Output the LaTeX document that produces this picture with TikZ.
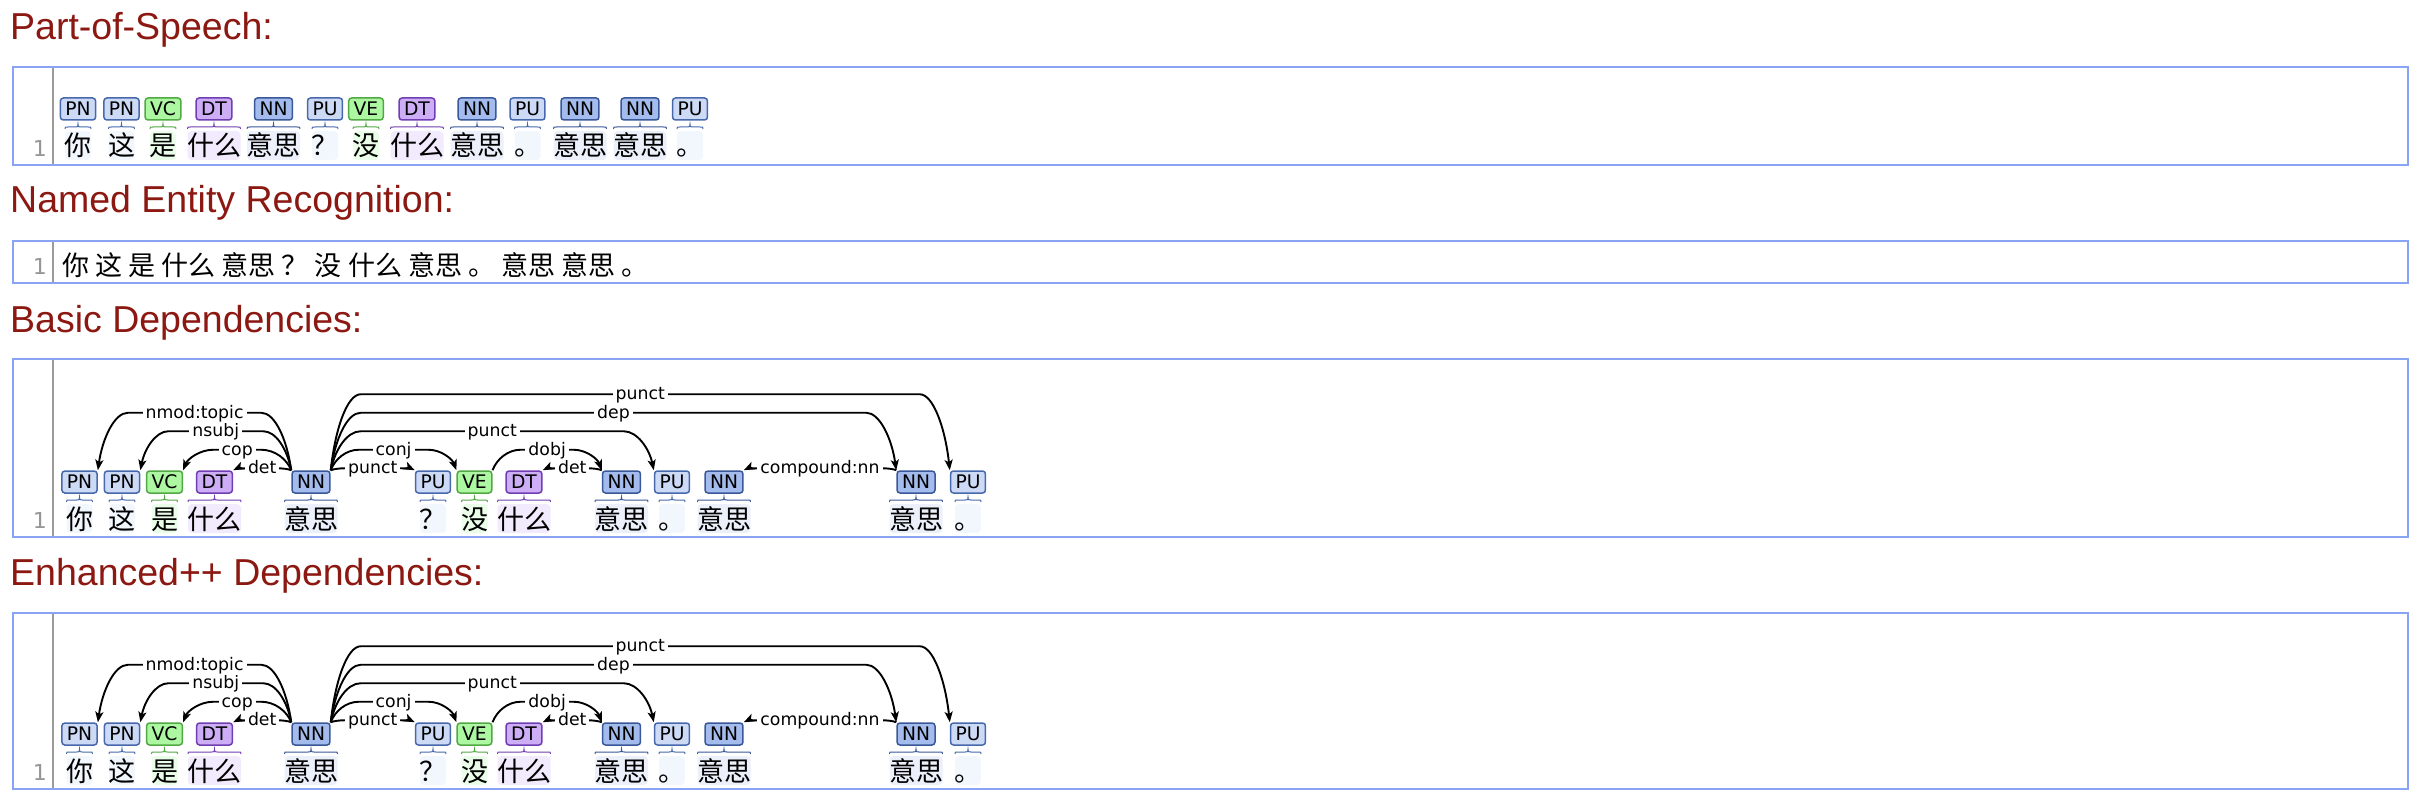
\documentclass[tikz,border=0pt]{standalone}
\usepackage{fontspec}
\newfontfamily\dvs{DejaVu Sans}
\newfontfamily\lib{Liberation Sans}
\newfontfamily\cjk{Noto Sans CJK SC}
\usetikzlibrary{calc,arrows.meta}
\definecolor{titlered}{RGB}{140,24,18}
\definecolor{frameblue}{RGB}{138,164,245}
\definecolor{gutgray}{RGB}{155,155,155}
\definecolor{numgray}{RGB}{150,150,150}
\definecolor{pnfill}{RGB}{204,218,246}
\definecolor{pnline}{RGB}{72,104,172}
\definecolor{nnfill}{RGB}{164,188,237}
\definecolor{nnline}{RGB}{58,88,152}
\definecolor{vvfill}{RGB}{173,246,162}
\definecolor{vvline}{RGB}{82,168,68}
\definecolor{dtfill}{RGB}{204,173,246}
\definecolor{dtline}{RGB}{112,62,178}
\colorlet{pnbg}{pnfill!25!white}
\colorlet{nnbg}{nnfill!22!white}
\colorlet{vvbg}{vvfill!25!white}
\colorlet{dtbg}{dtfill!25!white}
\tikzset{
  title/.style={anchor=base west, inner sep=0pt, text=titlered, font=\lib\fontsize{37.5pt}{40pt}\selectfont},
  frame/.style={draw=frameblue, line width=2pt},
  gutter/.style={draw=gutgray, line width=2pt},
  lnum/.style={anchor=base east, inner sep=0pt, text=numgray, font=\dvs\fontsize{22pt}{24pt}\selectfont},
  tag/.style={rounded corners=3pt, line width=1.5pt, inner xsep=5pt, inner ysep=0pt, minimum height=22pt, text height=13.6pt, text depth=0pt, font=\dvs\fontsize{18.7pt}{20pt}\selectfont},
  word/.style={anchor=base, inner sep=0pt, font=\cjk\fontsize{27pt}{30pt}\selectfont},
  arc/.style={draw=black, line width=1.9pt, -{Stealth[length=10.5pt,width=8pt,inset=2.5pt]}},
  lab/.style={fill=white, inner xsep=3pt, inner ysep=1pt, text height=14.7pt, text depth=3.3pt, font=\dvs\fontsize{17.3pt}{19pt}\selectfont},
}
% word background and brace: cx, T, half width, bg colour, line colour
\newcommand{\wordbg}[5]{%
  \fill[fill=#4, rounded corners=4pt] ({#1-#3},{#2+33}) rectangle ({#1+#3},{#2+62});
  \draw[color=#5, line width=1pt] ({#1-#3},{#2+31}) .. controls ({#1-#3},{#2+29}) .. ({#1-#3+3},{#2+29}) -- ({#1-3},{#2+29}) .. controls ({#1},{#2+29}) .. ({#1},{#2+26}) .. controls ({#1},{#2+29}) .. ({#1+3},{#2+29}) -- ({#1+#3-3},{#2+29}) .. controls ({#1+#3},{#2+29}) .. ({#1+#3},{#2+31});
}
\newcommand{\tokrow}[3]{% prefix, tag top T, list
  \foreach \i/\cx/\tg/\fc/\lc/\bc/\w/\hw in #3 {
    \wordbg{\cx}{#2}{\hw}{\bc}{\lc}
    \node[tag, fill=\fc, draw=\lc] (#1\i) at (\cx,{#2+11}) {\tg};
    \node[word] (#1w\i) at (\cx,{#2+58}) {\w};
  }
}
% arcs: head, dependent, rise, corner offset, label
\newcommand{\arcL}[5]{%
  \draw[arc] (#1.north west) .. controls +({-0.15*#4},{-0.55*#3}) and +({0.45*#4},0) .. ($(#1.north west)+({-#4},{-#3})$) -- node[lab,midway]{#5} ($(#2.north east)+({#4},{-#3})$) .. controls +({-0.45*#4},0) and +({0.15*#4},{-0.55*#3}) .. (#2.north east);}
\newcommand{\arcR}[5]{%
  \draw[arc] (#1.north east) .. controls +({0.15*#4},{-0.55*#3}) and +({-0.45*#4},0) .. ($(#1.north east)+({#4},{-#3})$) -- node[lab,midway]{#5} ($(#2.north west)+({-#4},{-#3})$) .. controls +({0.45*#4},0) and +({-0.15*#4},{-0.55*#3}) .. (#2.north west);}
\newcommand{\deparcs}[1]{%
  \arcL{#15}{#14}{2}{15}{det}
  \arcR{#15}{#16}{2}{15}{punct}
  \arcL{#19}{#18}{2}{15}{det}
  \arcL{#112}{#111}{2}{15}{compound:nn}
  \arcL{#15}{#13}{20.5}{30}{cop}
  \arcR{#15}{#17}{20.5}{28}{conj}
  \arcR{#17}{#19}{20.5}{28}{dobj}
  \arcL{#15}{#12}{39}{28}{nsubj}
  \arcR{#15}{#110}{39}{30}{punct}
  \arcL{#15}{#11}{57.5}{30}{nmod:topic}
  \arcR{#15}{#112}{57.5}{30}{dep}
  \arcR{#15}{#113}{76}{30}{punct}
}
\def\poslist{1/78/PN/pnfill/pnline/pnbg/你/13, 2/121.5/PN/pnfill/pnline/pnbg/这/13, 3/163/VC/vvfill/vvline/vvbg/是/13, 4/214/DT/dtfill/dtline/dtbg/什么/26.5, 5/273.5/NN/nnfill/nnline/nnbg/意思/26.5, 6/325/PU/pnfill/pnline/pnbg/？/13, 7/366/VE/vvfill/vvline/vvbg/没/13, 8/417/DT/dtfill/dtline/dtbg/什么/26.5, 9/477/NN/nnfill/nnline/nnbg/意思/26.5, 10/527.5/PU/pnfill/pnline/pnbg/。/13, 11/580/NN/nnfill/nnline/nnbg/意思/26.5, 12/640/NN/nnfill/nnline/nnbg/意思/26.5, 13/690/PU/pnfill/pnline/pnbg/。/13}
\def\deplist{1/79.5/PN/pnfill/pnline/pnbg/你/13, 2/122/PN/pnfill/pnline/pnbg/这/13, 3/164.5/VC/vvfill/vvline/vvbg/是/13, 4/214.5/DT/dtfill/dtline/dtbg/什么/26.5, 5/311/NN/nnfill/nnline/nnbg/意思/26.5, 6/433/PU/pnfill/pnline/pnbg/？/13, 7/474.5/VE/vvfill/vvline/vvbg/没/13, 8/524/DT/dtfill/dtline/dtbg/什么/26.5, 9/621.5/NN/nnfill/nnline/nnbg/意思/26.5, 10/672/PU/pnfill/pnline/pnbg/。/13, 11/724/NN/nnfill/nnline/nnbg/意思/26.5, 12/916/NN/nnfill/nnline/nnbg/意思/26.5, 13/968/PU/pnfill/pnline/pnbg/。/13}
\begin{document}
\begin{tikzpicture}[x=1pt,y=-1pt]
\useasboundingbox (0,0) rectangle (2430,810);
% titles
\node[title] (ti1) at (10,40) {Part-of-Speech:};
\node[title] (ti2) at (10,213) {Named Entity Recognition:};
\node[title] (ti3) at (10,332) {Basic Dependencies:};
\node[title] (ti4) at (10,585) {Enhanced++ Dependencies:};
% frames
\draw[gutter] (53,67) -- (53,165);
\draw[frame] (13,67) rectangle (2408,165);
\draw[gutter] (53,241) -- (53,283);
\draw[frame] (13,241) rectangle (2408,283);
\draw[gutter] (53,359) -- (53,537);
\draw[frame] (13,359) rectangle (2408,537);
\draw[gutter] (53,613) -- (53,789);
\draw[frame] (13,613) rectangle (2408,789);
% line numbers
\node[lnum] (n1) at (47,157) {1};
\node[lnum] (n2) at (47,275) {1};
\node[lnum] (n3) at (47,528) {1};
\node[lnum] (n4) at (47,780) {1};
% part of speech
\tokrow{p}{98}{\poslist}
% named entity recognition
\node[word, anchor=base west] (ner) at (62.5,276) {你 这 是 什么 意思 ？ 没 什么 意思 。 意思 意思 。};
% basic dependencies
\tokrow{b}{471}{\deplist}
\deparcs{b}
% enhanced++ dependencies
\tokrow{e}{723}{\deplist}
\deparcs{e}
\end{tikzpicture}
\end{document}
